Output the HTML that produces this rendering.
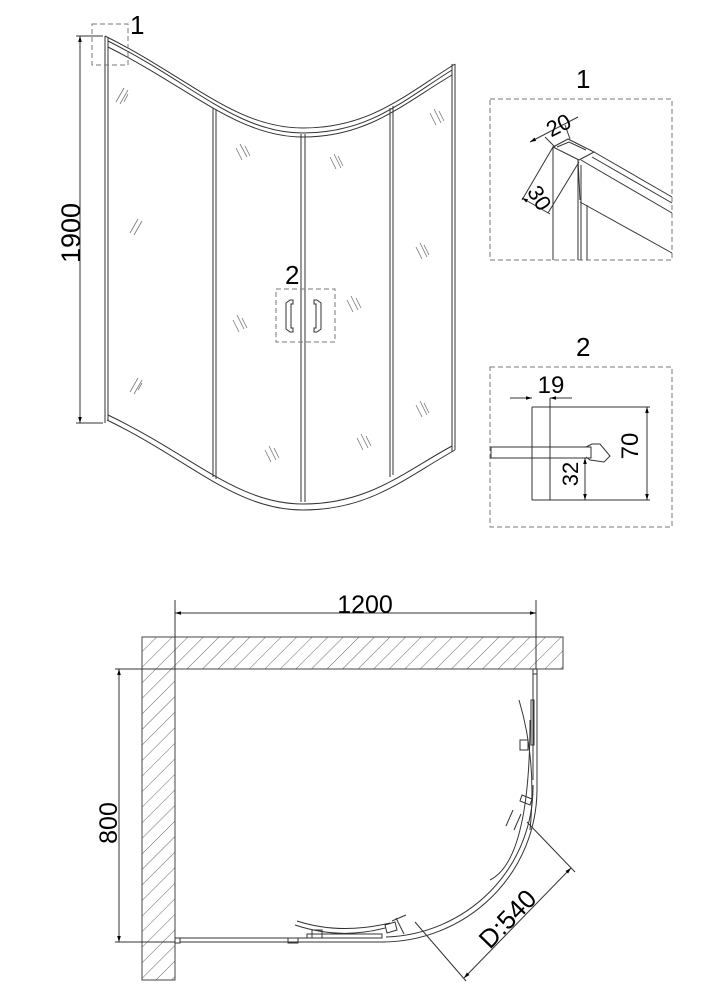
<!DOCTYPE html>
<html><head><meta charset="utf-8"><style>
html,body{margin:0;padding:0;background:#fff;}
svg{display:block;}
text{font-family:"Liberation Sans",sans-serif;fill:#000;}
</style></head><body>
<svg width="706" height="1000" viewBox="0 0 706 1000" xmlns="http://www.w3.org/2000/svg">
<defs>
<marker id="ar" viewBox="0 0 10 10" refX="10" refY="5" markerWidth="8" markerHeight="6" orient="auto-start-reverse" markerUnits="userSpaceOnUse"><path d="M0,2 L10,5 L0,8 z" fill="#000"/></marker>
<pattern id="hatch" patternUnits="userSpaceOnUse" width="11" height="11" patternTransform="rotate(45)"><line x1="0" y1="0" x2="0" y2="11" stroke="#555" stroke-width="0.9"/></pattern>
</defs>
<g fill="none" stroke="#333" stroke-width="1">
<line x1="105" y1="36" x2="105" y2="423"/><line x1="108" y1="38" x2="108" y2="420"/>
<line x1="452" y1="64" x2="452" y2="452"/><line x1="455" y1="64" x2="455" y2="450"/>
<path d="M105,36 C190,78 235,128 303,128 C370,128 405,95 455,64"/>
<path d="M108,41 C192,83 237,133 303,133 C369,133 404,100 452,70"/>
<path d="M108,47 C190,88 238,137 303,137 C368,137 403,104 452,75"/>
<path d="M107,420 C190,460 235,510 303,510 C370,510 405,478 455,450"/>
<path d="M108,415 C192,455 237,504 303,504 C369,504 404,472 452,446"/>
<line x1="213" y1="108" x2="213" y2="477"/><line x1="216" y1="110" x2="216" y2="479"/>
<line x1="301" y1="134" x2="301" y2="502"/><line x1="305" y1="134" x2="305" y2="502"/>
<line x1="390" y1="108" x2="390" y2="477"/><line x1="393" y1="106" x2="393" y2="475"/>
<g stroke="#777" stroke-width="0.8">
<path d="M116,102 l8,-14 M120,104 l8,-14 M124,102 l4,-8"/>
<path d="M130,233 l8,-14 M134,235 l8,-14"/>
<path d="M130,392 l8,-14 M134,394 l8,-14 M138,390 l4,-7"/>
<path d="M236,148 l6,12 M240,144 l7,13 M245,146 l5,10"/>
<path d="M233,320 l6,12 M237,315 l7,14 M242,318 l5,10"/>
<path d="M265,450 l6,12 M269,446 l7,14 M274,448 l5,10"/>
<path d="M330,157 l6,12 M334,154 l7,14 M338,156 l5,10"/>
<path d="M347,300 l6,12 M351,296 l7,14 M356,298 l5,10"/>
<path d="M357,438 l6,12 M361,434 l7,14 M366,436 l5,10"/>
<path d="M430,113 l6,12 M434,109 l7,14 M439,111 l5,10"/>
<path d="M416,247 l6,12 M420,243 l7,14 M424,245 l5,10"/>
<path d="M416,405 l6,12 M420,401 l7,14 M424,403 l5,10"/>
</g>
<path d="M286,303 l4,-3 h3 v4 h-2 v24 h2 v4 h-3 l-4,-3 z"/>
<path d="M321,303 l-4,-3 h-3 v4 h2 v24 h-2 v4 h3 l4,-3 z"/>
<g stroke="#777" stroke-dasharray="5,3">
<rect x="92" y="24" width="36" height="41"/>
<rect x="276" y="289" width="59" height="53"/>
<rect x="490" y="99" width="182" height="161"/>
<rect x="490" y="367" width="182" height="160"/>
</g>
<line x1="76" y1="36" x2="103" y2="36"/><line x1="76" y1="423" x2="103" y2="423"/>
<line x1="80" y1="36" x2="80" y2="423" marker-start="url(#ar)" marker-end="url(#ar)"/>
<line x1="553" y1="147" x2="553" y2="260"/>
<line x1="578" y1="160" x2="578" y2="260"/>
<line x1="581" y1="165" x2="581" y2="260"/>
<line x1="587" y1="205" x2="587" y2="260"/>
<path d="M553,147 L568,139 L594,152 L579,160 Z"/>
<path d="M557,147 L569,142 L586,150"/>
<path d="M581,160 L672,213"/>
<path d="M594,152 L672,197"/>
<path d="M592,157 L672,203"/>
<path d="M580,202 L672,253"/>
<path d="M578,160 L580,200"/>
<line x1="530" y1="142" x2="578" y2="117" marker-start="url(#ar)"/>
<line x1="545" y1="137" x2="555" y2="147"/><line x1="565" y1="125" x2="570" y2="139"/>
<line x1="522" y1="200" x2="553" y2="147"/><line x1="548" y1="213" x2="579" y2="162"/>
<line x1="522" y1="198" x2="550" y2="214" marker-start="url(#ar)"/>
<line x1="532" y1="407" x2="532" y2="500"/>
<line x1="550" y1="398" x2="550" y2="500"/>
<line x1="532" y1="407" x2="650" y2="407"/>
<line x1="532" y1="500" x2="650" y2="500"/>
<rect x="491" y="447" width="100" height="11"/>
<path d="M586,447 l6,-3 h8 l10,12 l-6,6 l-14,-2 l-4,-3"/>
<line x1="510" y1="398" x2="532" y2="398" marker-end="url(#ar)"/>
<line x1="572" y1="398" x2="550" y2="398" marker-end="url(#ar)"/>
<line x1="647" y1="407" x2="647" y2="500" marker-start="url(#ar)" marker-end="url(#ar)"/>
<line x1="585" y1="458" x2="585" y2="500" marker-start="url(#ar)" marker-end="url(#ar)"/>
<path d="M142,637 H563 V669 H175 V980 H142 Z" fill="url(#hatch)" stroke="#444"/>
<line x1="175" y1="600" x2="175" y2="669"/>
<line x1="536" y1="600" x2="536" y2="669"/>
<line x1="175" y1="613" x2="536" y2="613" marker-start="url(#ar)" marker-end="url(#ar)"/>
<line x1="115" y1="669" x2="175" y2="669"/>
<line x1="115" y1="942" x2="175" y2="942"/>
<line x1="119" y1="669" x2="119" y2="942" marker-start="url(#ar)" marker-end="url(#ar)"/>
<rect x="533" y="669" width="4" height="5"/>
<line x1="533" y1="674" x2="533" y2="780"/><line x1="537" y1="674" x2="537" y2="790"/>
<rect x="531" y="700" width="3" height="45"/>
<rect x="175" y="938" width="5" height="5"/>
<line x1="180" y1="938" x2="380" y2="938"/><line x1="180" y1="942" x2="385" y2="942"/>
<rect x="288" y="938" width="10" height="5"/>
<rect x="307" y="934" width="75" height="4"/>
<path d="M537,790 A155,153 0 0 1 382,942"/>
<path d="M533,785 A152,150 0 0 1 386,937"/>
<path d="M530,720 Q530,860 490,880"/>
<path d="M519,700 Q537,760 530,830"/>
<path d="M295,925 Q340,940 385,928"/>
<path d="M297,921 Q340,935 390,923"/>
<path d="M522,795 l10,4 l-2,6 l-10,-4z"/><path d="M520,740 l8,0 l0,10 l-8,0z"/>
<path d="M312,930 h10 v8 h-10z"/><path d="M385,925 l10,-3 l2,8 l-10,3z"/>
<path d="M513,810 l-7,16 M521,814 l-7,16"/>
<path d="M396,918 l8,16 M392,921 l14,-6"/>
<line x1="527" y1="822" x2="575" y2="872"/>
<line x1="415" y1="922" x2="466" y2="981"/>
<line x1="571" y1="868" x2="464" y2="978" marker-start="url(#ar)" marker-end="url(#ar)"/>
</g>
<text x="130" y="34" font-size="26">1</text>
<text x="285" y="284" font-size="26">2</text>
<text x="0" y="0" font-size="27" transform="translate(80,233) rotate(-90)" text-anchor="middle">1900</text>
<text x="576" y="88" font-size="26">1</text>
<text x="576" y="356" font-size="26">2</text>
<text x="0" y="0" font-size="22" transform="translate(562,132) rotate(-27)" text-anchor="middle">20</text>
<text x="0" y="0" font-size="22" transform="translate(533,202) rotate(58)" text-anchor="middle">30</text>
<text x="551" y="393" font-size="24" text-anchor="middle">19</text>
<text x="0" y="0" font-size="24" transform="translate(638,446) rotate(-90)" text-anchor="middle">70</text>
<text x="0" y="0" font-size="22" transform="translate(578,474) rotate(-90)" text-anchor="middle">32</text>
<text x="365" y="613" font-size="25" text-anchor="middle">1200</text>
<text x="0" y="0" font-size="25" transform="translate(117,823) rotate(-90)" text-anchor="middle">800</text>
<text x="0" y="0" font-size="26" transform="translate(514,925) rotate(-46)" text-anchor="middle">D:540</text>
</svg>
</body></html>
